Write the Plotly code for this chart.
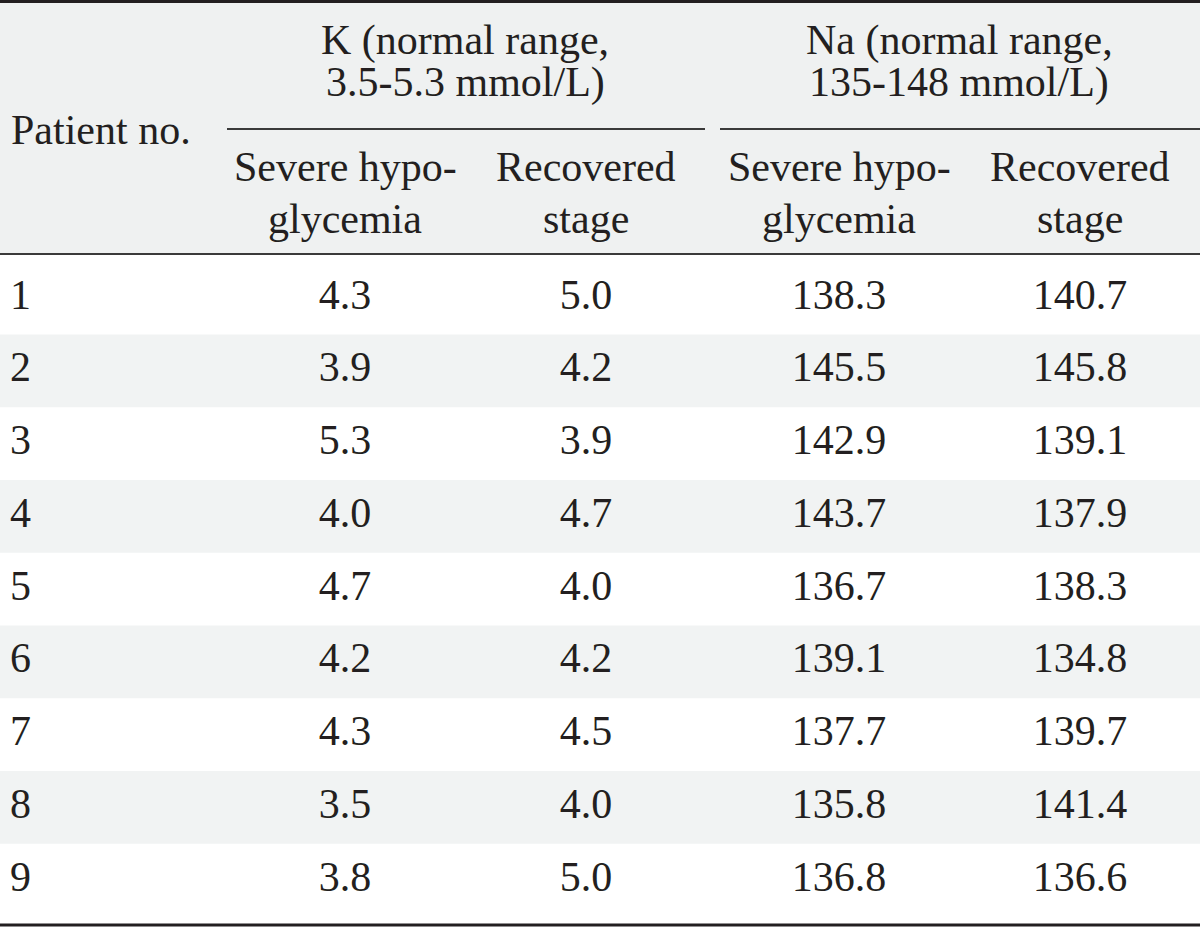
import plotly.graph_objects as go

# ---- data ----
patients = ["1", "2", "3", "4", "5", "6", "7", "8", "9"]
k_severe = [4.3, 3.9, 5.3, 4.0, 4.7, 4.2, 4.3, 3.5, 3.8]
k_recovered = [5.0, 4.2, 3.9, 4.7, 4.0, 4.2, 4.5, 4.0, 5.0]
na_severe = [138.3, 145.5, 142.9, 143.7, 136.7, 139.1, 137.7, 135.8, 136.8]
na_recovered = [140.7, 145.8, 139.1, 137.9, 138.3, 134.8, 139.7, 141.4, 136.6]

row_header = "Patient no."
group_headers = ["K (normal range,<br>3.5-5.3 mmol/L)", "Na (normal range,<br>135-148 mmol/L)"]
sub_headers = ["Severe hypo-<br>glycemia", "Recovered<br>stage", "Severe hypo-<br>glycemia", "Recovered<br>stage"]

# ---- layout geometry (pixels) ----
W, H = 1200, 927
FONT = "Liberation Serif"
FS = 42
TXT = "#231f20"
HEADER_BG = "#eff1f1"
STRIPE_BG = "#f1f3f3"

col_x = [345, 586, 839, 1080]
group_spans = [(227, 705), (720, 1200)]
row0, row_step = 298, 72.75
header_bottom = 254
row_y = [row0 + i * row_step for i in range(len(patients))]

fig = go.Figure()

shapes = []
# header background
shapes.append(dict(type="rect", xref="x", yref="y", x0=0, x1=W, y0=2, y1=header_bottom,
                   fillcolor=HEADER_BG, line_width=0, layer="below"))
# stripes
for i, y in enumerate(row_y):
    if i % 2 == 1:
        shapes.append(dict(type="rect", xref="x", yref="y", x0=0, x1=W,
                           y0=y - row_step / 2, y1=y + row_step / 2,
                           fillcolor=STRIPE_BG, line_width=0, layer="below"))
# rules
shapes.append(dict(type="line", xref="x", yref="y", x0=0, x1=W, y0=1.5, y1=1.5,
                   line=dict(color=TXT, width=3)))
for (a, b) in group_spans:
    shapes.append(dict(type="line", xref="x", yref="y", x0=a, x1=b, y0=129, y1=129,
                       line=dict(color="#3a3a3a", width=1.8)))
shapes.append(dict(type="line", xref="x", yref="y", x0=0, x1=W, y0=header_bottom, y1=header_bottom,
                   line=dict(color="#3a3a3a", width=2)))
shapes.append(dict(type="line", xref="x", yref="y", x0=0, x1=W, y0=925, y1=925,
                   line=dict(color=TXT, width=3)))

annotations = []
def add_text(x, y, text, anchor="center"):
    annotations.append(dict(x=x, y=y, xref="x", yref="y", text=text, showarrow=False,
                            xanchor=anchor, yanchor="middle",
                            font=dict(family=FONT, size=FS, color=TXT)))

add_text(9, 130, row_header, "left")
for (a, b), g in zip(group_spans, group_headers):
    l1, l2 = g.split("<br>")
    add_text((a + b) / 2 - 1, 40, l1)
    add_text((a + b) / 2 - 1, 82, l2)
for x, s in zip(col_x, sub_headers):
    l1, l2 = s.split("<br>")
    add_text(x, 167, l1)
    add_text(x, 219, l2)

# body cells
fig.add_trace(go.Scatter(x=[10] * len(patients), y=row_y, text=patients, mode="text",
                         textposition="middle right", cliponaxis=False, hoverinfo="skip",
                         textfont=dict(family=FONT, size=FS, color=TXT)))
for x, vals in zip(col_x, [k_severe, k_recovered, na_severe, na_recovered]):
    fig.add_trace(go.Scatter(x=[x] * len(vals), y=row_y, text=[f"{v:.1f}" for v in vals],
                             mode="text", textposition="middle center", cliponaxis=False,
                             hoverinfo="skip",
                             textfont=dict(family=FONT, size=FS, color=TXT)))

fig.update_layout(
    width=W, height=H, margin=dict(l=0, r=0, t=0, b=0),
    paper_bgcolor="white", plot_bgcolor="white", showlegend=False,
    xaxis=dict(range=[0, W], visible=False, fixedrange=True),
    yaxis=dict(range=[H, 0], visible=False, fixedrange=True),
    shapes=shapes, annotations=annotations,
)
fig.write_html("out.html", config={"displayModeBar": False},
               post_script="document.body.style.margin='0';document.body.style.overflow='hidden';")
